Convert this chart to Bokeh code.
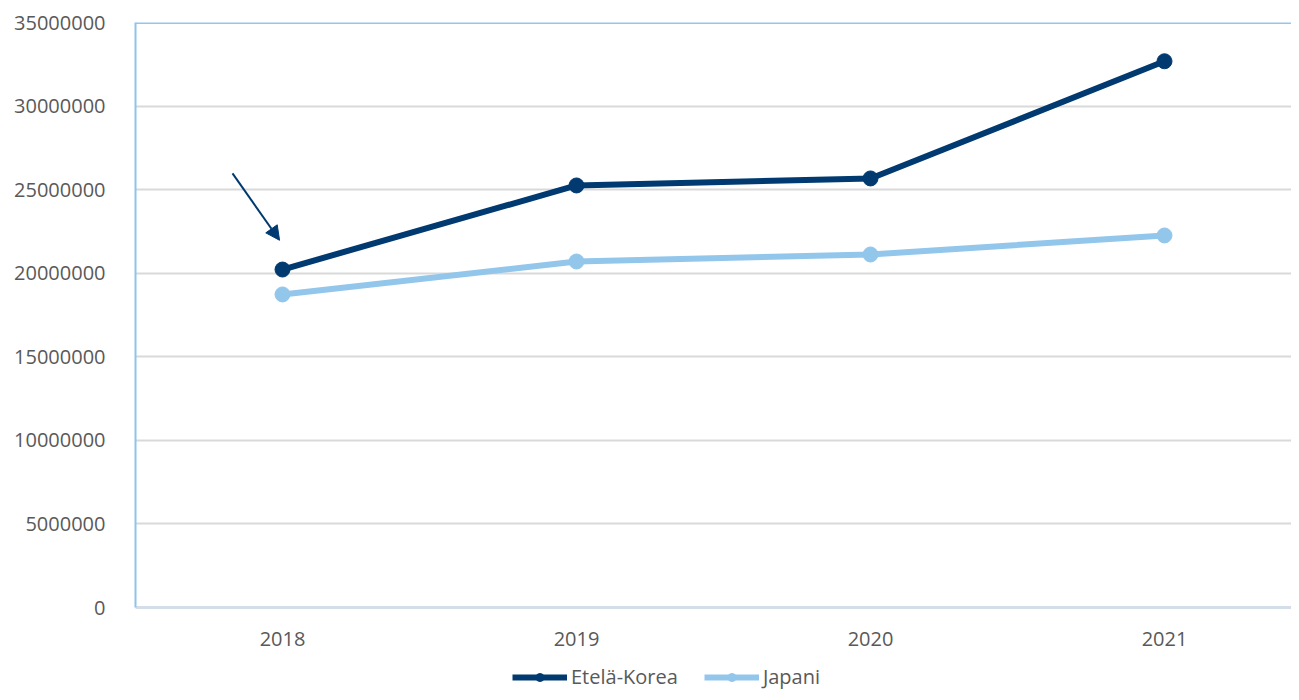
from bokeh.plotting import figure
from bokeh.models import (Range1d, FixedTicker, NumeralTickFormatter, Span, Arrow,
                          NormalHead, Legend, LegendItem)
from bokeh.embed import file_html
from bokeh.resources import INLINE

years = [2018, 2019, 2020, 2021]
korea = [20220000, 25250000, 25670000, 32680000]
japan = [18730000, 20700000, 21120000, 22260000]
y_ticks = [0, 5000000, 10000000, 15000000, 20000000, 25000000, 30000000, 35000000]
series_names = ["Etelä-Korea", "Japani"]

# arrow annotation offsets (relative to first Korea point)
arrow_from = (-0.17, 5750000)
arrow_to = (-0.01, 1750000)

DARK = "#003a70"
LIGHT = "#93c6eb"
TXT = "#595959"
FONT = "Open Sans"

Y_MAX = 35000000
FRAME_H = 670
DATA_H = 585
y_start = -Y_MAX * (FRAME_H - DATA_H) / DATA_H

p = figure(width=1291, height=692, frame_width=1156, frame_height=FRAME_H,
           output_backend="svg", toolbar_location=None,
           x_range=Range1d(2017.5, 2017.5 + 1156 / 294), y_range=Range1d(y_start, Y_MAX),
           min_border_left=135, min_border_top=22, min_border_right=0, min_border_bottom=0)
p.outline_line_color = None
p.background_fill_color = "white"
p.xgrid.visible = False
p.ygrid.grid_line_color = "#d9d9d9"
p.ygrid.grid_line_width = 2

p.yaxis.ticker = FixedTicker(ticks=y_ticks)
p.yaxis.bounds = (0, Y_MAX)
p.yaxis.formatter = NumeralTickFormatter(format="0")
p.yaxis.axis_line_color = "#8ec4ea"
p.yaxis.axis_line_width = 2
p.yaxis.major_tick_line_color = None
p.yaxis.minor_tick_line_color = None
p.yaxis.major_label_standoff = 24
p.yaxis.major_label_text_font = FONT
p.yaxis.major_label_text_font_size = "20px"
p.yaxis.major_label_text_color = TXT

p.xaxis.fixed_location = 0
p.xaxis.ticker = FixedTicker(ticks=years)
p.xaxis.axis_line_color = "#d3dee8"
p.xaxis.axis_line_width = 3
p.xaxis.major_tick_line_color = None
p.xaxis.minor_tick_line_color = None
p.xaxis.major_label_standoff = 18
p.xaxis.major_label_text_font = FONT
p.xaxis.major_label_text_font_size = "20px"
p.xaxis.major_label_text_color = TXT

p.add_layout(Span(location=Y_MAX, dimension="width", line_color="#93c6eb", line_width=3))

l1 = p.line(years, korea, line_color=DARK, line_width=6)
c1 = p.scatter(years, korea, size=15, fill_color=DARK, line_color=DARK)
l2 = p.line(years, japan, line_color=LIGHT, line_width=6)
c2 = p.scatter(years, japan, size=15, fill_color=LIGHT, line_color=LIGHT)

p.add_layout(Arrow(end=NormalHead(size=14, fill_color=DARK, line_color=DARK),
                   x_start=years[0] + arrow_from[0], y_start=korea[0] + arrow_from[1],
                   x_end=years[0] + arrow_to[0], y_end=korea[0] + arrow_to[1],
                   line_color=DARK, line_width=2))

legend = Legend(items=[LegendItem(label=series_names[0], renderers=[l1, c1]),
                       LegendItem(label=series_names[1], renderers=[l2, c2])],
                orientation="horizontal", location=(377, 2),
                glyph_width=55, glyph_height=20, label_standoff=4, spacing=26,
                padding=0, margin=0, border_line_color=None, background_fill_alpha=0,
                label_text_font=FONT, label_text_font_size="20px", label_text_color=TXT)
p.add_layout(legend, "center")

open("out.html", "w").write(file_html(p, INLINE))
